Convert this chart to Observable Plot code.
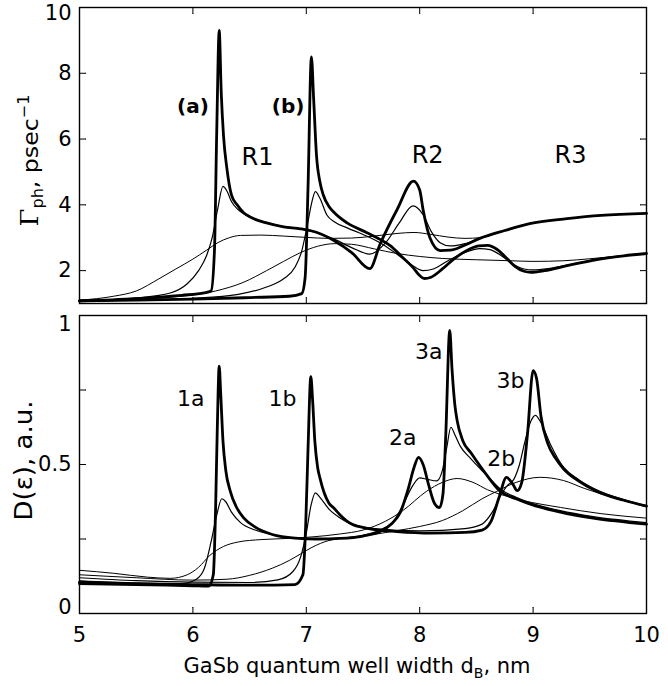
<!DOCTYPE html>
<html><head><meta charset="utf-8">
<script src="https://cdn.jsdelivr.net/npm/d3@7"></script>
<script src="https://cdn.jsdelivr.net/npm/@observablehq/plot@0.6"></script>
<style>
body{margin:0;background:#fff;}
#chart{width:668px;}
#chart svg{display:block;}
</style></head><body><div id="chart"></div>
<script>
// ---- axes ----
const xDomain = [5, 10];
const gammaDomain = [1, 10];
const dosDomain = [0, 1];
const xTicks = [5, 6, 7, 8, 9, 10];
const gammaTicks = [2, 4, 6, 8, 10];
const dosTicks = [0, 0.25, 0.5, 0.75, 1];
const dosTickLabels = [0, 0.5, 1];
const xTitle = "GaSb quantum well width dB, nm";
const gammaTitle = "Γph, psec-1";
const dosTitle = "D(ε), a.u.";

// ---- top panel: phonon scattering rate Γph (psec^-1) ----
const gammaThickA = [[5.0,1.08],[5.5,1.15],[5.9,1.25],[6.1,1.32],[6.16,1.38],[6.19,2.6],[6.21,6.2],[6.232,9.3],[6.25,7.4],[6.27,6.1],[6.3,5.1],[6.34,4.3],[6.39,4.0],[6.45,3.75],[6.51,3.62],[6.65,3.45],[6.8,3.33],[6.95,3.27],[7.1,3.15],[7.25,2.9],[7.4,2.55],[7.56,2.06],[7.65,2.8],[7.8,3.85],[7.945,4.72],[8.0,4.45],[8.03,3.85],[8.09,3.0],[8.18,2.61],[8.27,2.62],[8.4,2.78],[8.53,2.98],[8.75,3.22],[8.97,3.43],[9.3,3.58],[9.6,3.68],[10,3.74]];
const gammaMedA = [[5.0,1.08],[5.5,1.17],[5.8,1.32],[5.95,1.6],[6.05,2.0],[6.12,2.45],[6.17,3.0],[6.22,3.9],[6.265,4.56],[6.3,4.42],[6.34,4.1],[6.4,3.85],[6.5,3.63],[6.65,3.46],[6.8,3.34],[6.95,3.27],[7.1,3.15],[7.25,2.95],[7.4,2.7],[7.56,2.5],[7.7,2.85],[7.82,3.45],[7.94,3.97],[8.03,3.7],[8.1,3.2],[8.18,2.85],[8.27,2.75],[8.4,2.82],[8.53,2.98],[8.75,3.22],[8.97,3.43],[9.3,3.58],[9.6,3.68],[10,3.74]];
const gammaThinA = [[5.0,1.1],[5.3,1.22],[5.5,1.38],[5.7,1.75],[5.85,2.05],[6.0,2.35],[6.12,2.62],[6.22,2.85],[6.32,3.0],[6.42,3.07],[6.6,3.08],[6.8,3.05],[7.0,3.01],[7.2,2.98],[7.4,2.99],[7.6,3.05],[7.8,3.13],[7.95,3.16],[8.1,3.1],[8.25,3.02],[8.4,2.98],[8.53,3.0],[8.75,3.22],[8.97,3.43],[9.3,3.58],[9.6,3.68],[10,3.74]];
const gammaThickB = [[5.0,1.08],[5.5,1.1],[6.0,1.13],[6.5,1.18],[6.85,1.22],[6.96,1.3],[6.99,1.8],[7.015,4.5],[7.045,8.5],[7.065,7.2],[7.09,5.5],[7.12,4.7],[7.15,4.3],[7.2,3.95],[7.25,3.75],[7.36,3.45],[7.53,3.16],[7.65,2.95],[7.74,2.76],[7.85,2.4],[7.94,2.1],[8.0,1.85],[8.04,1.76],[8.1,1.8],[8.2,2.05],[8.3,2.35],[8.42,2.62],[8.52,2.75],[8.6,2.77],[8.68,2.65],[8.76,2.4],[8.84,2.13],[8.92,1.98],[8.98,1.95],[9.1,2.0],[9.3,2.15],[9.55,2.33],[9.8,2.45],[10,2.52]];
const gammaMedB = [[5.0,1.08],[5.5,1.11],[6.0,1.16],[6.4,1.28],[6.65,1.5],[6.8,1.75],[6.9,2.1],[6.96,2.6],[7.01,3.4],[7.05,4.1],[7.08,4.4],[7.12,4.2],[7.18,3.7],[7.25,3.48],[7.36,3.3],[7.5,3.1],[7.65,2.85],[7.8,2.5],[7.93,2.17],[8.03,2.0],[8.12,2.05],[8.25,2.3],[8.4,2.55],[8.53,2.67],[8.62,2.64],[8.72,2.45],[8.82,2.2],[8.92,2.05],[9.0,2.02],[9.15,2.07],[9.35,2.2],[9.6,2.37],[9.8,2.46],[10,2.52]];
const gammaThinB = [[5.0,1.1],[5.5,1.14],[5.9,1.22],[6.2,1.38],[6.45,1.65],[6.65,2.0],[6.8,2.28],[6.95,2.55],[7.1,2.74],[7.25,2.82],[7.4,2.8],[7.6,2.66],[7.8,2.52],[8.0,2.43],[8.2,2.37],[8.5,2.33],[8.8,2.3],[9.0,2.28],[9.27,2.3],[9.5,2.36],[9.8,2.46],[10,2.52]];

// ---- bottom panel: density of states D(ε) (a.u.) ----
const dosThickA = [[5.0,0.10],[5.5,0.097],[6.0,0.093],[6.14,0.092],[6.18,0.13],[6.2,0.35],[6.215,0.62],[6.232,0.83],[6.245,0.74],[6.265,0.58],[6.29,0.48],[6.33,0.41],[6.38,0.36],[6.45,0.32],[6.55,0.29],[6.7,0.265],[6.9,0.253],[7.1,0.25],[7.3,0.252],[7.5,0.26],[7.65,0.275],[7.75,0.3],[7.83,0.34],[7.9,0.42],[7.95,0.49],[7.99,0.524],[8.03,0.5],[8.08,0.43],[8.13,0.37],[8.175,0.355],[8.205,0.4],[8.23,0.6],[8.265,0.95],[8.285,0.82],[8.31,0.7],[8.33,0.648],[8.38,0.58],[8.45,0.54],[8.6,0.46],[8.71,0.41],[8.85,0.385],[8.95,0.37],[9.24,0.34],[9.53,0.32],[10,0.3]];
const dosMedA = [[5.0,0.11],[5.5,0.102],[5.9,0.1],[6.03,0.115],[6.1,0.15],[6.16,0.24],[6.21,0.33],[6.255,0.385],[6.29,0.375],[6.34,0.34],[6.42,0.305],[6.55,0.28],[6.7,0.265],[6.9,0.253],[7.1,0.25],[7.3,0.253],[7.5,0.262],[7.65,0.28],[7.77,0.31],[7.86,0.37],[7.94,0.43],[8.0,0.455],[8.07,0.45],[8.15,0.445],[8.2,0.48],[8.24,0.56],[8.275,0.625],[8.31,0.6],[8.36,0.56],[8.45,0.52],[8.6,0.46],[8.72,0.415],[8.85,0.39],[8.95,0.375],[9.24,0.345],[9.53,0.325],[10,0.305]];
const dosThinA = [[5.0,0.145],[5.3,0.135],[5.6,0.122],[5.8,0.118],[5.95,0.13],[6.05,0.155],[6.15,0.195],[6.27,0.225],[6.4,0.24],[6.6,0.248],[6.85,0.252],[7.05,0.257],[7.3,0.267],[7.5,0.28],[7.7,0.31],[7.85,0.345],[8.06,0.41],[8.2,0.44],[8.33,0.453],[8.47,0.44],[8.6,0.415],[8.71,0.4],[8.9,0.38],[9.24,0.356],[9.6,0.335],[10,0.32]];
const dosThickB = [[5.0,0.105],[5.5,0.1],[6.0,0.097],[6.5,0.095],[6.9,0.097],[6.97,0.13],[6.995,0.3],[7.015,0.55],[7.04,0.795],[7.055,0.72],[7.075,0.58],[7.1,0.49],[7.12,0.455],[7.2,0.37],[7.24,0.355],[7.3,0.33],[7.4,0.3],[7.55,0.285],[7.8,0.275],[8.1,0.27],[8.4,0.272],[8.55,0.28],[8.63,0.31],[8.7,0.39],[8.765,0.457],[8.82,0.435],[8.86,0.412],[8.9,0.44],[8.95,0.6],[9.0,0.815],[9.03,0.79],[9.07,0.66],[9.13,0.57],[9.2,0.52],[9.27,0.485],[9.4,0.445],[9.56,0.41],[9.8,0.38],[10,0.36]];
const dosMedB = [[5.0,0.12],[5.5,0.11],[6.0,0.105],[6.5,0.104],[6.75,0.113],[6.88,0.14],[6.95,0.19],[7.0,0.27],[7.04,0.36],[7.08,0.405],[7.12,0.39],[7.2,0.35],[7.3,0.32],[7.4,0.3],[7.6,0.285],[8.0,0.277],[8.4,0.285],[8.55,0.3],[8.64,0.34],[8.72,0.4],[8.77,0.428],[8.83,0.45],[8.88,0.5],[8.93,0.58],[8.98,0.645],[9.02,0.665],[9.07,0.64],[9.15,0.57],[9.27,0.49],[9.4,0.45],[9.56,0.415],[9.8,0.382],[10,0.362]];
const dosThinB = [[5.0,0.13],[5.5,0.12],[6.0,0.112],[6.3,0.115],[6.5,0.128],[6.7,0.152],[6.85,0.178],[6.95,0.2],[7.05,0.222],[7.2,0.245],[7.5,0.26],[7.8,0.278],[8.0,0.292],[8.2,0.312],[8.38,0.345],[8.55,0.385],[8.68,0.41],[8.85,0.44],[9.06,0.457],[9.27,0.446],[9.45,0.42],[9.7,0.39],[10,0.358]];

// ---- annotations ----
const topNotes = ["(a)", "(b)", "R1", "R2", "R3"];
const topNoteX = [6.0, 6.84, 6.57, 8.07, 9.33];
const topNoteY = [7.0, 7.0, 5.45, 5.5, 5.5];
const topNoteBold = [true, true, false, false, false];
const bottomNotes = ["1a", "1b", "2a", "2b", "3a", "3b"];
const bottomNoteX = [5.98, 6.79, 7.85, 8.72, 8.08, 8.80];
const bottomNoteY = [0.72, 0.72, 0.59, 0.52, 0.876, 0.78];

// ---- styles ----
const FONT = "DejaVu Sans, Liberation Sans, Arial, sans-serif";
const W = {thick: 2.8, med: 1.2, thin: 1.0};
const fmt = d => String(d);

const toRows = a => a.map(([x, y]) => ({x, y}));
const curveMarks = list => list.map(([data, w]) =>
  Plot.line(toRows(data), {x: "x", y: "y", stroke: "black", strokeWidth: w, curve: "monotone-x", strokeLinejoin: "round"}));

function tickMarks(xs, ys, len) {
  return [
    Plot.vector(xs, {x: d => d, frameAnchor: "bottom", rotate: 0, length: len, anchor: "start", r: 0, stroke: "black", strokeWidth: 1}),
    Plot.vector(xs, {x: d => d, frameAnchor: "top", rotate: 180, length: len, anchor: "start", r: 0, stroke: "black", strokeWidth: 1}),
    Plot.vector(ys, {y: d => d, frameAnchor: "left", rotate: 90, length: len, anchor: "start", r: 0, stroke: "black", strokeWidth: 1}),
    Plot.vector(ys, {y: d => d, frameAnchor: "right", rotate: -90, length: len, anchor: "start", r: 0, stroke: "black", strokeWidth: 1})
  ];
}
const yLabels = (ticks, opts = {}) =>
  Plot.axisY({ticks, tickSize: 0, tickPadding: 8, label: null, fontSize: 21, tickFormat: fmt, ...opts});

const topChart = Plot.plot({
  width: 668, height: 306,
  marginLeft: 79, marginRight: 22, marginTop: 7, marginBottom: 3,
  style: {fontFamily: FONT, fontSize: "21px", color: "black", background: "white", overflow: "visible"},
  x: {domain: xDomain, axis: null},
  y: {domain: gammaDomain},
  marks: [
    ...curveMarks([[gammaThinA, W.thin], [gammaThinB, W.thin], [gammaMedA, W.med], [gammaMedB, W.med], [gammaThickA, W.thick], [gammaThickB, W.thick]]),
    Plot.frame({stroke: "black", strokeWidth: 1.4}),
    ...tickMarks(xTicks.slice(1, -1), gammaTicks, 6),
    yLabels(gammaTicks.slice(0, -1)),
    yLabels(gammaTicks.slice(-1), {dy: 6}),
    Plot.text(topNotes.map((t, i) => ({t, x: topNoteX[i], y: topNoteY[i], b: topNoteBold[i]})).filter(d => d.b),
      {x: "x", y: "y", text: "t", fontSize: 20, fontWeight: "bold", fill: "black"}),
    Plot.text(topNotes.map((t, i) => ({t, x: topNoteX[i], y: topNoteY[i], b: topNoteBold[i]})).filter(d => !d.b),
      {x: "x", y: "y", text: "t", fontSize: 24, fill: "black"}),
    Plot.text([gammaTitle], {text: d => d, frameAnchor: "left", textAnchor: "middle", lineAnchor: "middle", dx: -49, dy: 5, rotate: -90, fontSize: 22, fill: "black"})
  ]
});

const bottomChart = Plot.plot({
  width: 668, height: 380,
  marginLeft: 79, marginRight: 22, marginTop: 9, marginBottom: 73,
  style: {fontFamily: FONT, fontSize: "21px", color: "black", background: "white", overflow: "visible"},
  x: {domain: xDomain},
  y: {domain: dosDomain},
  marks: [
    ...curveMarks([[dosThinA, W.thin], [dosThinB, W.thin], [dosMedA, W.med], [dosMedB, W.med], [dosThickA, W.thick], [dosThickB, W.thick]]),
    Plot.frame({stroke: "black", strokeWidth: 1.4}),
    ...tickMarks(xTicks, dosTicks, 6),
    yLabels([0], {dy: -6}),
    yLabels([0.5]),
    yLabels([1], {dy: 9}),
    Plot.axisX({ticks: xTicks, tickSize: 0, tickPadding: 14, label: null, fontSize: 21, tickFormat: fmt}),
    Plot.text(bottomNotes.map((t, i) => ({t, x: bottomNoteX[i], y: bottomNoteY[i]})),
      {x: "x", y: "y", text: "t", fontSize: 22, fill: "black"}),
    Plot.text([dosTitle], {text: d => d, frameAnchor: "left", textAnchor: "middle", lineAnchor: "middle", dx: -55, dy: -4, rotate: -90, fontSize: 24, fill: "black"}),
    Plot.text([xTitle], {text: d => d, frameAnchor: "bottom", textAnchor: "middle", lineAnchor: "middle", dy: 53, dx: -6, fontSize: 21, fill: "black"})
  ]
});

function richText(svg, plain, parts) {
  for (const t of svg.querySelectorAll("text")) {
    if (t.textContent === plain) {
      while (t.firstChild) t.removeChild(t.firstChild);
      for (const p of parts) {
        const s = document.createElementNS("http://www.w3.org/2000/svg", "tspan");
        s.textContent = p.t;
        if (p.dy) s.setAttribute("dy", p.dy);
        if (p.size) s.setAttribute("font-size", p.size);
        if (p.family) s.setAttribute("font-family", p.family);
        t.appendChild(s);
      }
      return t;
    }
  }
  return null;
}
function findText(svg, plain) {
  for (const t of svg.querySelectorAll("text")) if (t.textContent === plain) return t;
  return null;
}
// fit a rotated axis title to the length it has in the reference, centred on its anchor
function fitLabel(t, len) {
  if (!t) return;
  t.setAttribute("text-anchor", "start");
  t.setAttribute("x", 0);
  t.setAttribute("textLength", len);
  t.setAttribute("lengthAdjust", "spacingAndGlyphs");
  const bb = t.getBBox();
  t.setAttribute("x", -(bb.x + bb.width / 2));
}

const chart = document.getElementById("chart");
chart.appendChild(topChart);
chart.appendChild(bottomChart);

const gLabel = richText(topChart, gammaTitle, [
  {t: "Γ", family: "DejaVu Serif, Liberation Serif, serif", size: "24px"},
  {t: "ph", dy: "5", size: "15px"},
  {t: ", psec", dy: "-5"},
  {t: "−1", dy: "-9", size: "15px"}
]);
fitLabel(gLabel, 132);
fitLabel(findText(bottomChart, dosTitle), 120);
richText(bottomChart, xTitle, [
  {t: "GaSb quantum well width d"},
  {t: "B", dy: "5", size: "14px"},
  {t: ", nm", dy: "-5"}
]);
</script>
</body></html>
